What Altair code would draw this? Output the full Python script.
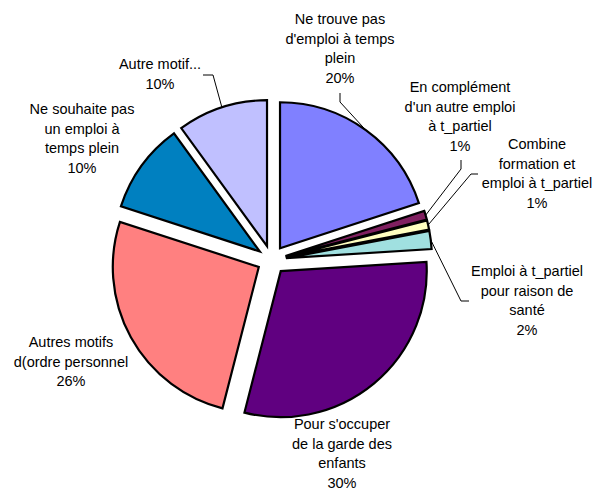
import math
import numpy as np
import pandas as pd
import altair as alt

# ---------------- data ----------------
categories = [
    "Ne trouve pas\nd'emploi à temps\nplein",
    "En complément\nd'un autre emploi\nà t_partiel",
    "Combine\nformation et\nemploi à t_partiel",
    "Emploi à t_partiel\npour raison de\nsanté",
    "Pour s'occuper\nde la garde des\nenfants",
    "Autres motifs\nd(ordre personnel",
    "Ne souhaite pas\nun emploi à\ntemps plein",
    "Autre motif...",
]
values = [20, 1, 1, 2, 30, 26, 10, 10]
colors = ["#8080FF", "#802060", "#FFFFC0", "#A0E0E0", "#600080", "#FF8080", "#0080C0", "#C0C0FF"]

# ---------------- layout (view pixel coords) ----------------
W, H = 589, 483
CX, CY = 263.5, 252.0      # pie centre
R = 146                    # slice radius
EXPL = 14.5                # explosion distance
FONT = "Liberation Sans"
FS = 14.5
LH = 19.5

# label first-line centres
label_x = [332, 452, 529, 519, 334, 63, 74, 152]
label_y = [12, 80, 137, 264, 417, 335, 102, 57]

# leader lines: (label end point, elbow) for slices with a leader
leaders = {
    0: [(332, 85), (332, 94)],
    1: [(453, 152), (453, 161)],
    2: [(470, 166), (463, 166)],
    3: [(461, 293), (453, 293)],
    7: [(195, 67), (205, 67)],
}

# ---------------- tables ----------------
names = [c.replace("\n", " ") for c in categories]
df = pd.DataFrame({
    "idx": list(range(len(values))),
    "name": names,
    "value": values,
    "text": [c + "\n" + f"{v}%" for c, v in zip(categories, values)],
    "lx": label_x,
    "ly": label_y,
})

TWO_PI = 2 * math.pi
cum = np.cumsum(values)
total = float(cum[-1])
rows = []
for i, pts in leaders.items():
    mid = (cum[i] - values[i] / 2) / total * TWO_PI
    end = (CX + (R + EXPL) * math.sin(mid), CY - (R + EXPL) * math.cos(mid))
    for k, (px, py) in enumerate(pts + [end]):
        rows.append({"name": names[i], "order": k, "px": px, "py": py})
lead_df = pd.DataFrame(rows)

base = alt.Chart(df)

slices = base.transform_window(
    cum="sum(value)", sort=[alt.SortField("idx")], frame=[None, 0]
).transform_joinaggregate(
    tot="sum(value)"
).transform_calculate(
    start="datum.cum - datum.value",
    mid=f"(datum.cum - datum.value/2) / datum.tot * {TWO_PI}",
).transform_calculate(
    ax=f"{CX} + {EXPL} * sin(datum.mid)",
    ay=f"{CY} - {EXPL} * cos(datum.mid)",
).mark_arc(
    radius=R, stroke="black", strokeWidth=2.2, strokeJoin="miter"
).encode(
    x=alt.X("ax:Q", scale=None, axis=None),
    y=alt.Y("ay:Q", scale=None, axis=None),
    theta=alt.Theta("start:Q", scale=alt.Scale(domain=[0, 100], range=[0, TWO_PI])),
    theta2="cum:Q",
    color=alt.Color("name:N", scale=alt.Scale(domain=names, range=colors), legend=None),
)

lines = alt.Chart(lead_df).mark_line(color="black", strokeWidth=1).encode(
    x=alt.X("px:Q", scale=None, axis=None),
    y=alt.Y("py:Q", scale=None, axis=None),
    detail="name:N",
    order="order:Q",
)

labels = base.mark_text(
    font=FONT, fontSize=FS, lineHeight=LH, lineBreak="\n",
    align="center", baseline="middle", color="black",
).encode(
    x=alt.X("lx:Q", scale=None, axis=None),
    y=alt.Y("ly:Q", scale=None, axis=None),
    text="text:N",
)

chart = alt.layer(slices, lines, labels).properties(
    width=W, height=H, padding=0, autosize=alt.AutoSizeParams(type="none")
).configure_view(stroke=None)

chart.save("out.html", embed_options={"renderer": "svg", "actions": False})
